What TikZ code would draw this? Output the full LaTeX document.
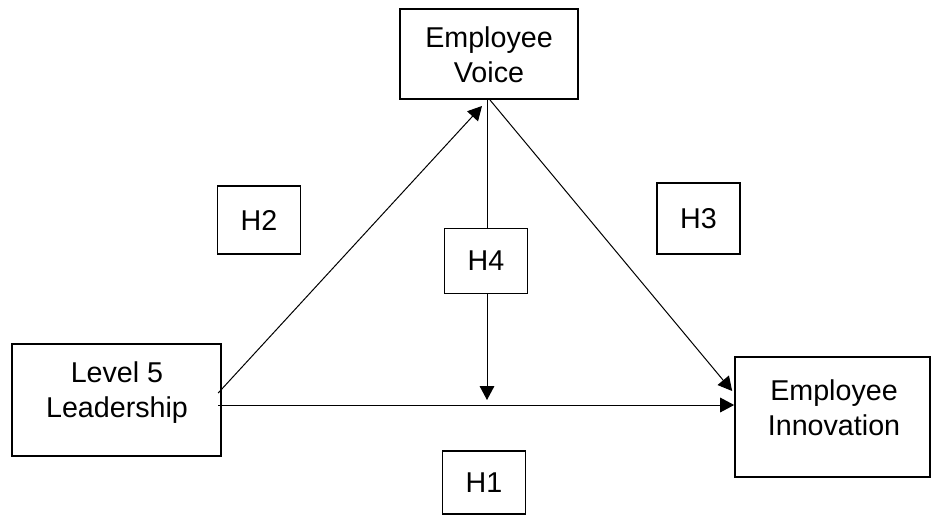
\documentclass[tikz,border=0pt]{standalone}
\usepackage{fontspec}
\setmainfont{Liberation Sans}
\usepackage{tikz}
\usetikzlibrary{positioning,arrows.meta}

\begin{document}
\begin{tikzpicture}[
x=0.75pt, y=-0.75pt,
bigbox/.style={draw, line width=1.5pt, inner sep=0pt},
hbox/.style={draw, line width=1.1pt, inner sep=0pt, minimum width=62pt, minimum height=49pt, font=\fontsize{21.5}{26}\selectfont},
boxtext/.style={inner sep=0pt, align=center, font=\fontsize{21.5}{26}\selectfont},
arrow/.style={-{Triangle[length=10.5pt, width=11pt]}, line width=0.75pt}
]
\useasboundingbox (0,0) rectangle (932,515);
% the three constructs
\node[bigbox, minimum width=157pt, minimum height=84pt] (lead) at (116.5,400) {};
\node[boxtext] (leadtext) at (117,392.5) {Level 5\\Leadership};
\node[bigbox, minimum width=133.5pt, minimum height=67.5pt] (voice) at (489,54) {};
\node[boxtext] (voicetext) at (489,55) {Employee\\Voice};
\node[bigbox, minimum width=146pt, minimum height=90pt] (innov) at (832.5,417) {};
\node[boxtext] (innovtext) at (834,407.5) {Employee\\Innovation};
% hypotheses
\node[hbox, minimum height=51pt] (h2) at (259,220) {H2};
\node[hbox, minimum height=53pt] (h3) at (698.5,218.5) {H3};
\node[hbox] (h4) at (486,261) {H4};
\node[hbox, minimum height=47pt] (h1) at (484,482.5) {H1};
\coordinate (mod) at (487,400);
% paths
\draw[arrow] ([shift={(-4,-7)}]lead.east) -- ([shift={(-7,6)}]voice.south);
\draw[arrow] ([shift={(-4,5)}]lead.east) -- ([shift={(0,-12)}]innov.west);
\draw[arrow] ([shift={(1,0)}]voice.south) -- ([shift={(-2,-26)}]innov.west);
\draw[line width=0.75pt] (mod |- voice.south) -- (mod |- h4.north);
\draw[arrow] (mod |- h4.south) -- (mod);
\end{tikzpicture}
\end{document}
